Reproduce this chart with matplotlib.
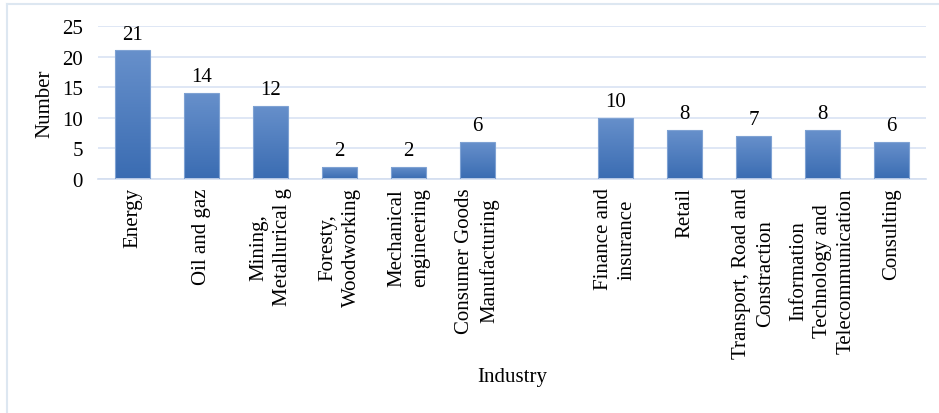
import numpy as np
import matplotlib
matplotlib.use("Agg")
import matplotlib.pyplot as plt
from matplotlib.colors import LinearSegmentedColormap
from matplotlib.lines import Line2D

# category slots (empty string = gap between the two groups)
categories = [
    "Energy", "Oil and gaz", "Mining,\nMetallurical g", "Foresty,\nWoodworking",
    "Mechanical\nengineering", "Consumer Goods\nManufacturing", "",
    "Finance and\ninsurance", "Retail", "Transport, Road and\nConstraction",
    "Information\nTechnology and\nTelecommunication", "Consulting",
]
values = [21, 14, 12, 2, 2, 6, None, 10, 8, 7, 8, 6]
yticks = [0, 5, 10, 15, 20, 25]

plt.rcParams["font.family"] = ["Liberation Serif", "DejaVu Serif"]
plt.rcParams["font.size"] = 15

fig = plt.figure(figsize=(9.39, 4.14), dpi=100)
ax = fig.add_axes([98 / 939, 1 - 180 / 414, 828 / 939, 153 / 414])

xs = [i for i, v in enumerate(values) if v is not None]
hs = [v for v in values if v is not None]
bars = ax.bar(xs, hs, width=0.5, color="none", edgecolor="#7fa2d3",
              linewidth=0.8, zorder=3)

grad = LinearSegmentedColormap.from_list("g", ["#3a6cb2", "#6790cb"])
g = np.linspace(0, 1, 256).reshape(-1, 1)
for b in bars:
    x0, w, h = b.get_x(), b.get_width(), b.get_height()
    im = ax.imshow(g, cmap=grad, origin="lower", aspect="auto",
                   extent=(x0, x0 + w, 0, h), zorder=2)
    im.set_clip_path(b)
    ax.annotate(f"{h:g}", (x0 + w / 2, h), xytext=(0, 5),
                textcoords="offset points", ha="center", va="bottom")

ax.set_xlim(-0.5, len(categories) - 0.5)
ax.set_ylim(0, 25)
ax.set_yticks(yticks)
ax.set_xticks(range(len(categories)))
ax.set_xticklabels(categories, rotation=90, multialignment="center",
                   linespacing=1.35)
ax.tick_params(axis="both", length=0)
ax.tick_params(axis="y", pad=11)
ax.tick_params(axis="x", pad=6)
ax.grid(axis="y", color="#d9e3f3", linewidth=1.2, zorder=0)
ax.set_axisbelow(True)
for s in ("left", "right", "top"):
    ax.spines[s].set_visible(False)
ax.spines["bottom"].set_color("#d3def0")
ax.spines["bottom"].set_linewidth(1.2)

ax.set_ylabel("Number")
ax.yaxis.set_label_coords(-53 / 828, 0.5)
ax.set_xlabel("Industry")
ax.xaxis.set_label_coords(0.5, -198 / 153)
ax.xaxis.label.set_va("center")
ax.yaxis.label.set_va("center")

# light frame on the left and top edges
fig.add_artist(Line2D([6.5 / 939, 6.5 / 939], [0, 1 - 5 / 414],
                      color="#dde7f1", lw=1.5, transform=fig.transFigure))
fig.add_artist(Line2D([6.5 / 939, 1], [1 - 5 / 414, 1 - 5 / 414],
                      color="#dde7f1", lw=1.5, transform=fig.transFigure))

fig.savefig("out.png", dpi=100)
